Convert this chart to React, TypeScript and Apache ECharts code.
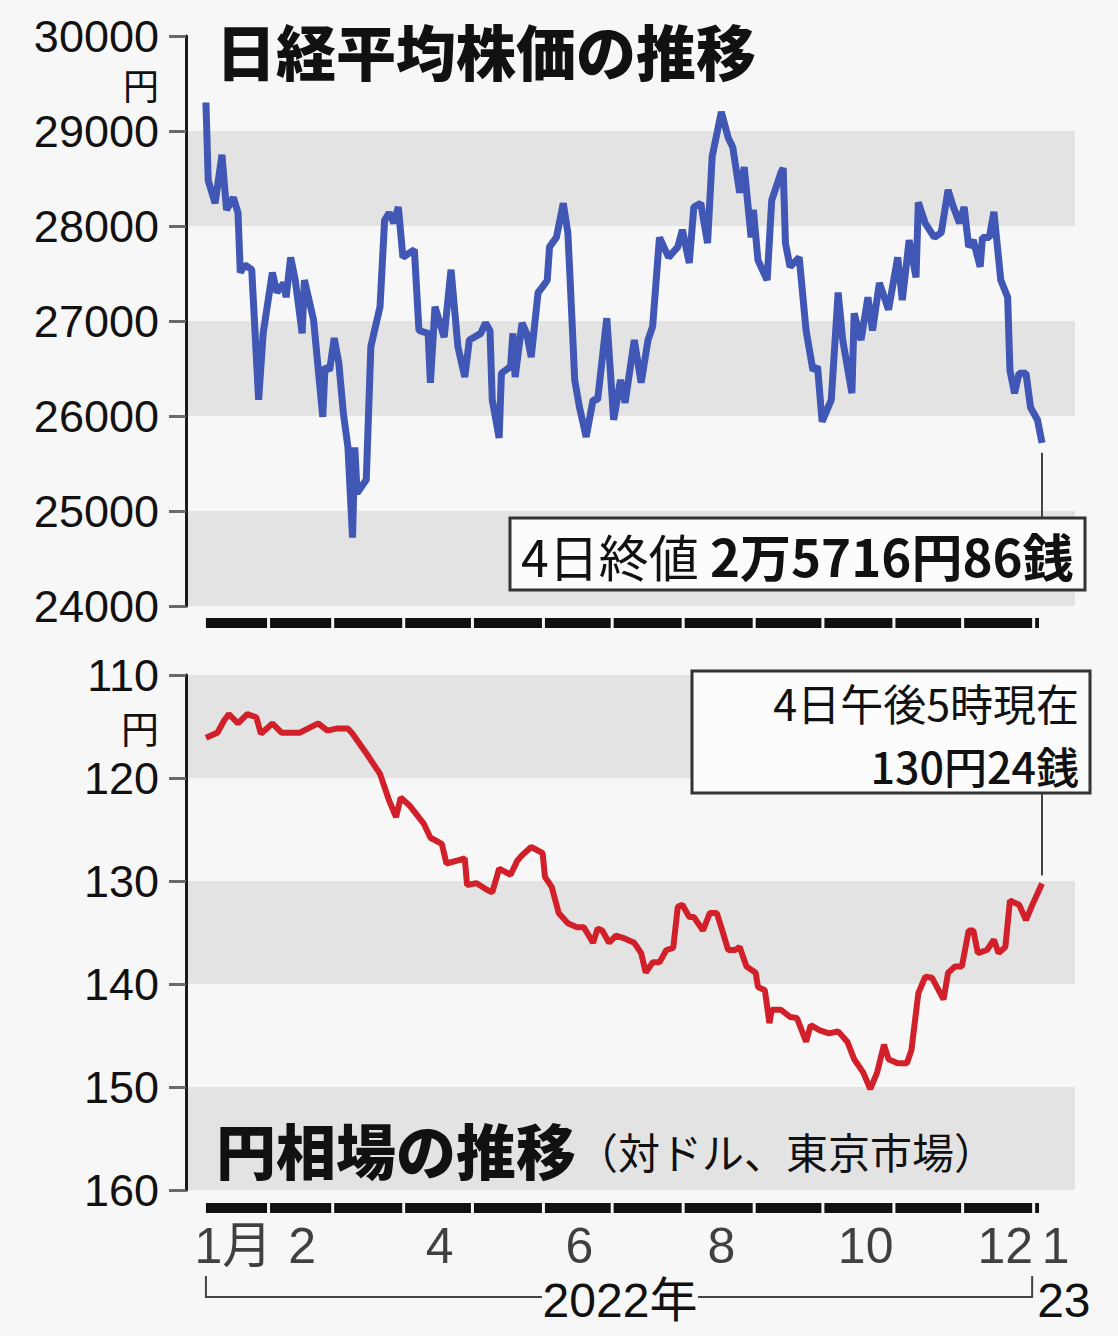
import React, { useEffect, useRef } from "react";
import * as echarts from "echarts";

// ---- Nikkei 225 closing prices (yen) ----
const nikkeiDates = [
  "2022-01-04","2022-01-05","2022-01-08","2022-01-11","2022-01-13","2022-01-16","2022-01-18","2022-01-19","2022-01-21","2022-01-24","2022-01-27","2022-01-29",
  "2022-02-02","2022-02-04","2022-02-07","2022-02-08","2022-02-10","2022-02-12","2022-02-15","2022-02-16","2022-02-20","2022-02-24","2022-02-25","2022-02-27",
  "2022-03-01","2022-03-03","2022-03-05","2022-03-07","2022-03-09","2022-03-10","2022-03-11","2022-03-15","2022-03-17","2022-03-21","2022-03-23","2022-03-25","2022-03-27","2022-03-29","2022-03-31",
  "2022-04-03","2022-04-05","2022-04-07","2022-04-11","2022-04-12","2022-04-14","2022-04-18","2022-04-21","2022-04-24","2022-04-27","2022-04-29",
  "2022-05-04","2022-05-06","2022-05-08","2022-05-09","2022-05-12","2022-05-13","2022-05-17","2022-05-18","2022-05-19","2022-05-22","2022-05-24","2022-05-26","2022-05-29","2022-05-31",
  "2022-06-02","2022-06-03","2022-06-06","2022-06-09","2022-06-11","2022-06-12","2022-06-14","2022-06-16","2022-06-19","2022-06-22","2022-06-24","2022-06-28",
  "2022-07-01","2022-07-04","2022-07-06","2022-07-10","2022-07-13","2022-07-16","2022-07-18","2022-07-21","2022-07-25","2022-07-29","2022-07-31",
  "2022-08-03","2022-08-05","2022-08-08","2022-08-11","2022-08-13","2022-08-17","2022-08-20","2022-08-22","2022-08-25","2022-08-27","2022-08-30","2022-08-31",
  "2022-09-02","2022-09-06","2022-09-08","2022-09-12","2022-09-13","2022-09-14","2022-09-16","2022-09-20","2022-09-23","2022-09-26","2022-09-28","2022-09-30",
  "2022-10-04","2022-10-07","2022-10-09","2022-10-13","2022-10-14","2022-10-17","2022-10-20","2022-10-22","2022-10-25","2022-10-29",
  "2022-11-02","2022-11-04","2022-11-07","2022-11-10","2022-11-11","2022-11-14","2022-11-18","2022-11-21","2022-11-24","2022-11-26","2022-11-29",
  "2022-12-01","2022-12-03","2022-12-05","2022-12-08","2022-12-09","2022-12-12","2022-12-14","2022-12-17","2022-12-20","2022-12-21","2022-12-23","2022-12-25","2022-12-28","2022-12-30",
  "2023-01-02","2023-01-04",
];
const nikkeiValues = [
  29300,28480,28240,28750,28170,28300,28140,27510,27590,27540,26170,26870,
  27510,27300,27400,27250,27670,27430,26870,27430,27010,25990,26520,26480,
  26820,26560,26030,25670,24720,25670,25190,25330,26730,27150,28060,28140,28030,28200,27670,
  27720,27750,26900,26870,26350,27150,26830,27540,26730,26410,26800,
  26870,26980,26900,26170,25770,26450,26520,26870,26410,26980,26870,26620,27300,27360,
  27430,27780,27880,28240,27930,27430,26380,26100,25780,26170,26170,27030,
  25960,26380,26140,26800,26350,26800,26940,27880,27670,27780,27960,
  27610,28200,28240,27820,28730,29200,28930,28830,28350,28620,27880,28170,
  27640,27430,28270,28560,28610,27820,27570,27670,26900,26480,26520,25940,
  26170,27300,26800,26240,27080,26800,27250,26900,27400,27120,
  27670,27220,27850,27460,28250,28030,27880,27930,28380,28220,28030,
  28200,27780,27850,27570,27880,27880,28150,27430,27250,26480,26240,26450,26450,26090,
  25960,25716.86,
];

// ---- Yen per dollar (Tokyo market) ----
const yenDates = [
  "2022-01-04","2022-01-09","2022-01-12","2022-01-14","2022-01-18","2022-01-22","2022-01-26","2022-01-28",
  "2022-02-02","2022-02-06","2022-02-14","2022-02-22","2022-02-26",
  "2022-03-02","2022-03-07","2022-03-09","2022-03-15","2022-03-21","2022-03-25","2022-03-28","2022-03-30",
  "2022-04-03","2022-04-09","2022-04-12","2022-04-17","2022-04-19","2022-04-24","2022-04-27","2022-04-28",
  "2022-05-02","2022-05-07","2022-05-09","2022-05-12","2022-05-17","2022-05-20","2022-05-22","2022-05-26","2022-05-31",
  "2022-06-01","2022-06-04","2022-06-07","2022-06-11","2022-06-15","2022-06-18","2022-06-22","2022-06-24","2022-06-26","2022-06-29",
  "2022-07-02","2022-07-06","2022-07-10","2022-07-13","2022-07-15","2022-07-18","2022-07-21","2022-07-24","2022-07-27","2022-07-29","2022-07-31",
  "2022-08-03","2022-08-05","2022-08-09","2022-08-12","2022-08-15","2022-08-17","2022-08-20","2022-08-23","2022-08-25","2022-08-28",
  "2022-09-01","2022-09-02","2022-09-05","2022-09-07","2022-09-08","2022-09-12","2022-09-16","2022-09-19","2022-09-23","2022-09-25","2022-09-29",
  "2022-10-03","2022-10-07","2022-10-11","2022-10-14","2022-10-18","2022-10-21","2022-10-24","2022-10-27","2022-10-29",
  "2022-11-02","2022-11-06","2022-11-08","2022-11-11","2022-11-14","2022-11-17","2022-11-22","2022-11-24","2022-11-27","2022-11-30",
  "2022-12-03","2022-12-05","2022-12-07","2022-12-11","2022-12-14","2022-12-16","2022-12-19","2022-12-21","2022-12-25","2022-12-28","2022-12-31",
  "2023-01-04",
];
const yenValues = [
  116.1,115.6,114.4,113.8,114.7,113.8,114.1,115.7,
  114.7,115.6,115.6,114.7,115.4,
  115.2,115.2,115.7,117.6,119.6,122.2,123.8,121.9,
  122.7,124.4,125.8,126.4,128.3,128.0,127.8,130.4,
  130.2,130.9,131.1,128.8,129.4,128.0,127.5,126.7,127.3,
  129.6,130.6,133.1,134.1,134.5,134.5,136.0,134.6,134.8,136.0,
  135.3,135.6,136.0,137.0,138.9,137.9,137.9,136.7,136.5,132.5,132.3,
  133.5,133.5,134.8,133.1,133.1,134.5,136.7,136.7,136.4,138.3,
  138.9,140.3,140.6,143.8,142.5,142.5,143.2,143.3,145.6,144.0,144.5,
  144.8,144.6,145.6,147.3,148.6,150.2,148.6,145.9,147.3,
  147.7,147.7,146.4,140.9,139.3,139.4,141.5,138.9,138.3,138.3,
  134.8,134.8,137.0,136.7,135.7,137.0,136.4,131.9,132.3,133.8,132.2,
  130.24,
];

// ---- Axis ticks / month strip / labels ----
const nikkeiAxis = { min: 24000, max: 30000, interval: 1000 };
const yenAxis = { min: 110, max: 160, interval: 10 };
const monthStarts = [
  "2022-01-04","2022-02-01","2022-03-01","2022-04-01","2022-05-01","2022-06-01","2022-07-01",
  "2022-08-01","2022-09-01","2022-10-01","2022-11-01","2022-12-01","2023-01-01","2023-01-04",
];
const monthLabelDates = ["2022-01-16","2022-02-15","2022-04-16","2022-06-16","2022-08-17","2022-10-19","2022-12-19","2023-01-10"];
const monthLabels = ["1月","2","4","6","8","10","12","1"];

const nikkeiTitle = "日経平均株価の推移";
const yenTitle = "円相場の推移";
const yenSubtitle = "（対ドル、東京市場）";
const nikkeiNoteA = "4日終値 ";
const nikkeiNoteB = "2万5716円86銭";
const yenNote1 = "4日午後5時現在";
const yenNote2 = "130円24銭";
const yearLabel = "2022年";
const nextYearLabel = "23";

const NUM_FONT = "'Liberation Sans', 'Noto Sans CJK JP', sans-serif";
const JP_FONT = "'Noto Sans CJK JP', sans-serif";

export default function App() {
  const ref = useRef<HTMLDivElement>(null);

  useEffect(() => {
    document.body.style.margin = "0";
    const chart = echarts.init(ref.current!, null, { renderer: "svg" });
    const t = (s: string) => echarts.time.parse(s).getTime();
    const DAY = 86400000;
    const xMin = t("2022-01-04") - 8.7 * DAY;
    const xMax = t("2023-01-04") + 14.4 * DAY;

    const gridL = 186;
    const gridW = 889;
    const grids = [
      { left: gridL, top: 36, width: gridW, height: 570 },
      { left: gridL, top: 618, width: gridW, height: 10 },
      { left: gridL, top: 675, width: gridW, height: 515 },
      { left: gridL, top: 1203, width: gridW, height: 10 },
    ];
    const xAxes = grids.map((_, i) => ({
      type: "time", gridIndex: i, min: xMin, max: xMax, show: false,
    }));
    const valueAxisStyle = {
      axisLine: { show: true, lineStyle: { color: "#1a1a1a", width: 3 } },
      axisTick: { show: true, length: 17, lineStyle: { color: "#6a6a6a", width: 3 } },
      axisLabel: {
        fontSize: 45, fontFamily: NUM_FONT, color: "#111", margin: 27,
        formatter: (v: number) => String(v),
      },
      splitLine: { show: false },
      splitArea: { show: true, areaStyle: { color: ["#e3e3e3", "rgba(0,0,0,0)"] } },
    };
    const stripAxis = (i: number) => ({ type: "value", gridIndex: i, min: 0, max: 1, show: false });
    const yAxes = [
      { type: "value", gridIndex: 0, ...nikkeiAxis, ...valueAxisStyle },
      stripAxis(1),
      { type: "value", gridIndex: 2, inverse: true, ...yenAxis, ...valueAxisStyle },
      stripAxis(3),
    ];

    const segments = monthStarts.slice(0, -1).map((s, i) => [t(s), t(monthStarts[i + 1]), 0]);
    const stripSeries = (i: number) => ({
      type: "custom",
      xAxisIndex: i,
      yAxisIndex: i,
      silent: true,
      encode: { x: [0, 1], y: 2 },
      data: segments,
      renderItem: (_p: any, api: any) => {
        const a = api.coord([api.value(0), 1]);
        const b = api.coord([api.value(1), 0]);
        return {
          type: "rect",
          shape: { x: a[0], y: a[1], width: Math.max(2, b[0] - a[0] - 3), height: b[1] - a[1] },
          style: { fill: "#111" },
        };
      },
    });

    chart.setOption({
      animation: false,
      backgroundColor: "#f7f7f7",
      grid: grids,
      xAxis: xAxes,
      yAxis: yAxes,
      series: [
        {
          type: "line", xAxisIndex: 0, yAxisIndex: 0, showSymbol: false, z: 3,
          data: nikkeiDates.map((d, i) => [d, nikkeiValues[i]]),
          lineStyle: { color: "#4057b5", width: 7 },
        },
        stripSeries(1),
        {
          type: "line", xAxisIndex: 2, yAxisIndex: 2, showSymbol: false, z: 3,
          data: yenDates.map((d, i) => [d, yenValues[i]]),
          lineStyle: { color: "#d2202a", width: 6 },
        },
        stripSeries(3),
        {
          type: "scatter", xAxisIndex: 3, yAxisIndex: 3, symbolSize: 1, silent: true,
          itemStyle: { color: "rgba(0,0,0,0)" },
          data: monthLabelDates.map((d) => [d, 0.5]),
          label: {
            show: true, position: "inside", offset: [0, 38],
            formatter: (p: any) => monthLabels[p.dataIndex],
            fontSize: 50, fontFamily: NUM_FONT, color: "#111",
          },
        },
      ],
    });

    const pN = chart.convertToPixel({ gridIndex: 0 }, [nikkeiDates[nikkeiDates.length - 1], nikkeiValues[nikkeiValues.length - 1]]) as number[];
    const pY = chart.convertToPixel({ gridIndex: 2 }, [yenDates[yenDates.length - 1], yenValues[yenValues.length - 1]]) as number[];
    const pStart = chart.convertToPixel({ gridIndex: 3 }, [monthStarts[0], 0]) as number[];
    const pYearEnd = chart.convertToPixel({ gridIndex: 3 }, [monthStarts[monthStarts.length - 2], 0]) as number[];

    const txt = (text: string, x: number, y: number, size: number, opts: any = {}) => ({
      type: "text", x, y, z: 100, silent: true,
      style: {
        text, fontSize: size, fontFamily: opts.font || JP_FONT, fontWeight: opts.weight || "normal",
        fill: "#111", align: opts.align || "left", verticalAlign: "middle",
        textAlign: opts.align || "left", textVerticalAlign: "middle",
      },
    });
    const box1 = { x: 510, y: 518, w: 575, h: 72 };
    const box2 = { x: 692, y: 671, w: 398, h: 122 };
    const bx = pYearEnd[0] - 3;
    const bracketY = 1297;

    chart.setOption({
      graphic: [
        txt(nikkeiTitle, 216, 49, 60, { weight: 900 }),
        txt("円", 159, 84, 36, { align: "right" }),
        txt("円", 159, 726, 38, { align: "right" }),
        txt(yenTitle, 216, 1148, 60, { weight: 900 }),
        txt(yenSubtitle, 576, 1150, 42),
        {
          type: "line", z: 90, silent: true,
          shape: { x1: pN[0], y1: pN[1] + 10, x2: pN[0], y2: box1.y },
          style: { stroke: "#444", lineWidth: 2 },
        },
        {
          type: "rect", z: 95, silent: true,
          shape: { x: box1.x, y: box1.y, width: box1.w, height: box1.h },
          style: { fill: "#fcfcfc", stroke: "#333", lineWidth: 3 },
        },
        {
          type: "text", x: box1.x + 11, y: box1.y + box1.h / 2 + 1, z: 100, silent: true,
          style: {
            text: `{a|${nikkeiNoteA}}{b|${nikkeiNoteB}}`,
            align: "left", verticalAlign: "middle", textAlign: "left", textVerticalAlign: "middle",
            rich: {
              a: { fontSize: 50, fontFamily: JP_FONT, fontWeight: "normal", fill: "#111", color: "#111" },
              b: { fontSize: 51, fontFamily: JP_FONT, fontWeight: "bold", fill: "#111", color: "#111" },
            },
          },
        },
        {
          type: "line", z: 90, silent: true,
          shape: { x1: pY[0], y1: box2.y + box2.h, x2: pY[0], y2: pY[1] - 8 },
          style: { stroke: "#444", lineWidth: 2 },
        },
        {
          type: "rect", z: 95, silent: true,
          shape: { x: box2.x, y: box2.y, width: box2.w, height: box2.h },
          style: { fill: "#fcfcfc", stroke: "#333", lineWidth: 3 },
        },
        {
          type: "text", x: box2.x + box2.w - 11, y: box2.y + box2.h / 2 + 1, z: 100, silent: true,
          style: {
            text: `{a|${yenNote1}}\n{b|${yenNote2}}`,
            align: "right", verticalAlign: "middle", textAlign: "right", textVerticalAlign: "middle",
            rich: {
              a: { fontSize: 43, lineHeight: 63, fontFamily: JP_FONT, fontWeight: "normal", fill: "#111", color: "#111" },
              b: { fontSize: 43, lineHeight: 63, fontFamily: JP_FONT, fontWeight: 500, fill: "#111", color: "#111" },
            },
          },
        },
        {
          type: "polyline", z: 90, silent: true,
          shape: { points: [[pStart[0], 1276], [pStart[0], bracketY], [542, bracketY]] },
          style: { stroke: "#444", lineWidth: 2, fill: "none" },
        },
        {
          type: "polyline", z: 90, silent: true,
          shape: { points: [[698, bracketY], [bx, bracketY], [bx, 1276]] },
          style: { stroke: "#444", lineWidth: 2, fill: "none" },
        },
        txt(yearLabel, 620, 1300, 48, { align: "center", font: NUM_FONT }),
        txt(nextYearLabel, bx + 5, 1300, 48, { font: NUM_FONT }),
      ],
    });

    return () => chart.dispose();
  }, []);

  return <div ref={ref} style={{ width: 1118, height: 1336 }} />;
}
